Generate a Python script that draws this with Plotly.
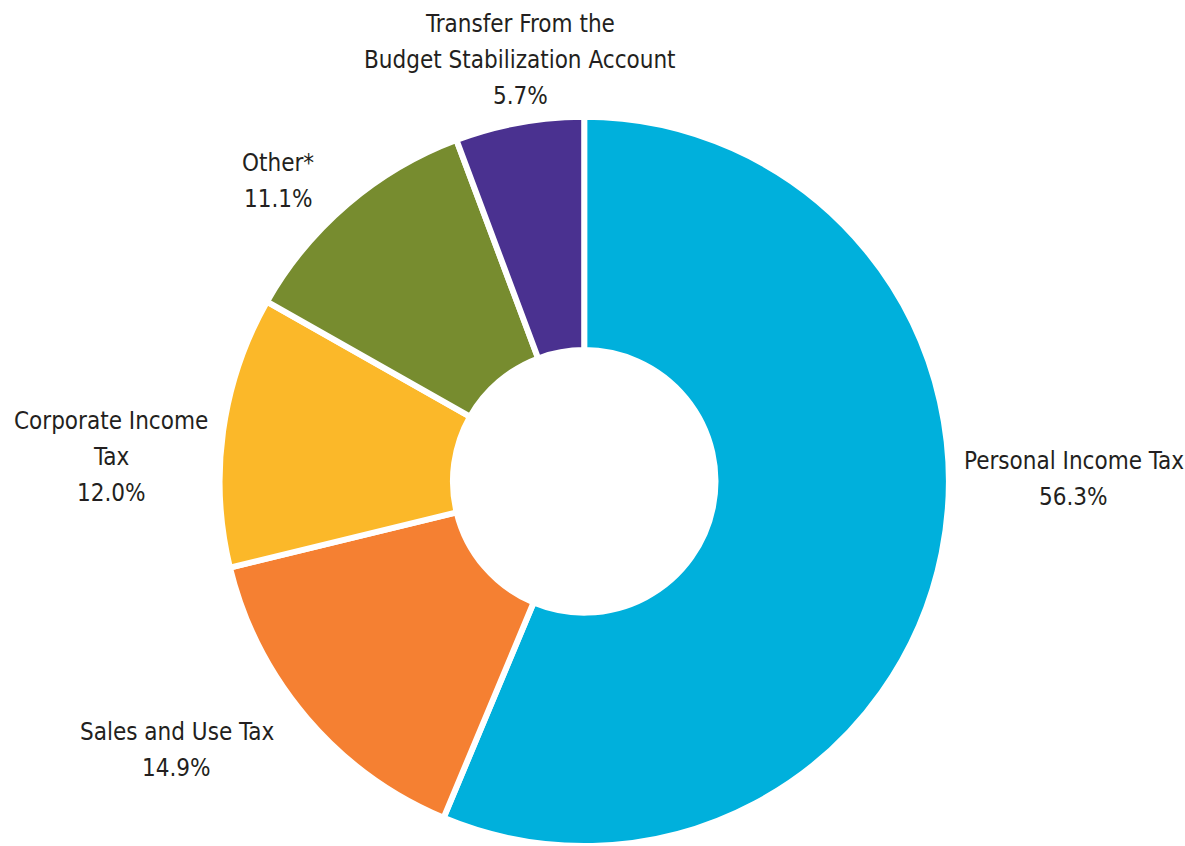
import plotly.graph_objects as go

categories = ["Personal Income Tax", "Sales and Use Tax", "Corporate Income Tax",
              "Other*", "Transfer From the Budget Stabilization Account"]
display_labels = ["Personal Income Tax", "Sales and Use Tax", "Corporate Income<br>Tax",
                  "Other*", "Transfer From the<br>Budget Stabilization Account"]
shares = [56.3, 14.9, 12.0, 11.1, 5.7]
colors = ["#00B0DC", "#F58032", "#FBB829", "#778C2F", "#4A3190"]
# label anchor positions (paper coords, block centre)
label_x = [0.906, 0.149, 0.094, 0.235, 0.439]
label_y = [0.434, 0.114, 0.46, 0.786, 0.929]
line_gap = 36  # px between label lines

fig = go.Figure(go.Pie(
    labels=categories,
    values=shares,
    sort=False,
    direction="clockwise",
    rotation=0,
    hole=0.36,
    marker=dict(colors=colors, line=dict(color="white", width=6)),
    textinfo="none",
    hoverinfo="label+percent",
    domain=dict(x=[0.184, 0.802], y=[0.0, 0.862]),
    showlegend=False,
))

for lab, v, x, y in zip(display_labels, shares, label_x, label_y):
    lines = lab.split("<br>") + [f"{v:.1f}%"]
    n = len(lines)
    for i, line in enumerate(lines):
        fig.add_annotation(
            x=x, y=y, xref="paper", yref="paper",
            text=line,
            yshift=((n - 1) / 2 - i) * line_gap,
            showarrow=False, xanchor="center", yanchor="middle",
            font=dict(family="DejaVu Sans Condensed, Roboto, sans-serif", size=24, color="#231F20"),
        )

fig.update_layout(
    width=1185, height=846,
    margin=dict(l=0, r=0, t=0, b=0),
    paper_bgcolor="white", plot_bgcolor="white",
)

fig.write_html("out.html")
